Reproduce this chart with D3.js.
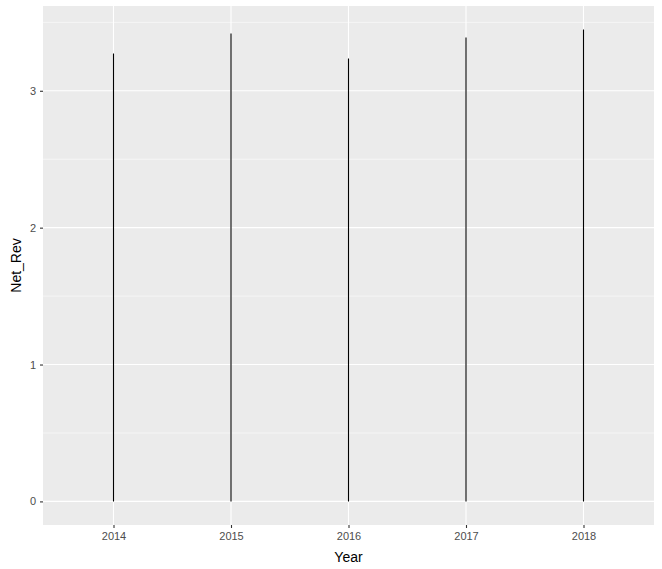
<!DOCTYPE html>
<html><head><meta charset="utf-8">
<script src="https://cdn.jsdelivr.net/npm/d3@7"></script>
<style>body{margin:0;background:#fff}svg{display:block}</style>
</head><body><svg id="c" width="662" height="569"></svg>
<script>
const years = ["2014","2015","2016","2017","2018"];
const netRev = [3.272, 3.418, 3.236, 3.389, 3.447];
const yTicks = [0,1,2,3];
const yMinor = [0.5,1.5,2.5,3.5];

const svg = d3.select("#c");
const L=43, R=654, T=6, B=525;
const ymax = d3.max(netRev), pad = ymax*0.05;
const y = d3.scaleLinear().domain([-pad, ymax+pad]).range([B,T]);
const x = d3.scalePoint().domain(years).range([L,R]).padding(0.6);

svg.append("rect").attr("x",L).attr("y",T).attr("width",R-L).attr("height",B-T).attr("fill","#ebebeb");
const g = svg.append("g");
g.selectAll(".mn").data(yMinor).join("line").attr("x1",L).attr("x2",R)
 .attr("y1",d=>y(d)).attr("y2",d=>y(d)).attr("stroke","#fff").attr("stroke-width",0.55);
g.selectAll(".mj").data(yTicks).join("line").attr("x1",L).attr("x2",R)
 .attr("y1",d=>y(d)).attr("y2",d=>y(d)).attr("stroke","#fff").attr("stroke-width",1.1);
g.selectAll(".vx").data(years).join("line").attr("y1",T).attr("y2",B)
 .attr("x1",d=>x(d)).attr("x2",d=>x(d)).attr("stroke","#fff").attr("stroke-width",1.1);

svg.selectAll(".bar").data(years).join("line")
 .attr("x1",d=>x(d)).attr("x2",d=>x(d))
 .attr("y1",y(0)).attr("y2",(d,i)=>y(netRev[i]))
 .attr("stroke","#000").attr("stroke-width",1.1);

const xa = svg.append("g").attr("transform",`translate(0,${B})`)
 .call(d3.axisBottom(x).tickSize(3).tickPadding(4));
const ya = svg.append("g").attr("transform",`translate(${L},0)`)
 .call(d3.axisLeft(y).tickValues(yTicks).tickFormat(d3.format("d")).tickSize(3).tickPadding(4));
[xa,ya].forEach(a=>{
  a.select(".domain").remove();
  a.selectAll(".tick line").attr("stroke","#333").attr("stroke-width",1.1);
  a.selectAll(".tick text").attr("fill","#4d4d4d").style("font-family","Liberation Sans, Arial, sans-serif").style("font-size","11px");
});
svg.append("text").attr("x",(L+R)/2).attr("y",562).attr("text-anchor","middle")
 .style("font-family","Liberation Sans, Arial, sans-serif").style("font-size","14px").text("Year");
svg.append("text").attr("transform",`translate(21,${(T+B)/2}) rotate(-90)`).attr("text-anchor","middle")
 .style("font-family","Liberation Sans, Arial, sans-serif").style("font-size","14px").text("Net_Rev");
</script></body></html>
